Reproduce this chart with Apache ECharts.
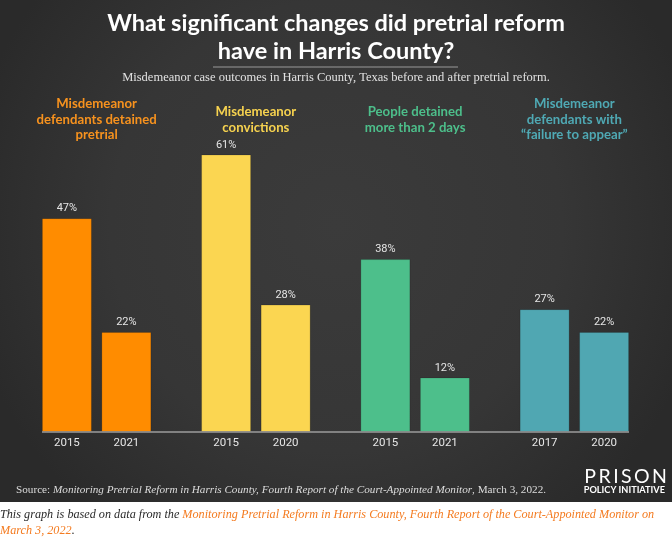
<!DOCTYPE html>
<html>
<head>
<meta charset="utf-8">
<script src="https://cdn.jsdelivr.net/npm/echarts@6/dist/echarts.min.js"></script>
<style>
html,body{margin:0;padding:0;background:#fff;}
#chart{width:672px;height:540px;}
</style>
</head>
<body>
<div id="chart"></div>
<script>
// ---- data ----
const titleText = 'What significant changes did pretrial reform\nhave in Harris County?';
const groupLabels = [
  'Misdemeanor\ndefendants detained\npretrial',
  'Misdemeanor\nconvictions',
  'People detained\nmore than 2 days',
  'Misdemeanor\ndefendants with\n\u201cfailure to appear\u201d'
];
const beforeYears = ['2015', '2015', '2015', '2017'];
const afterYears = ['2021', '2020', '2021', '2020'];
const beforeValues = [47, 61, 38, 27];
const afterValues = [22, 28, 12, 22];
const zeroValues = [0, 0, 0, 0];

// ---- styles ----
const barColors = ['#FF8C00', '#FBD651', '#4DBF8B', '#50A7B2'];
const labelColors = ['#F7921E', '#F6D24F', '#4DBF8B', '#4FA9B4'];

const chart = echarts.init(document.getElementById('chart'));

const rich = {};
labelColors.forEach((c, i) => {
  rich['g' + i] = { color: c, fontSize: 13.2, fontFamily: 'Lato', fontWeight: 'bold', lineHeight: 15.5, align: 'center' };
});

function pctLabel(vals) {
  return {
    show: true, position: 'top', distance: 4,
    color: '#E6E6E6', fontSize: 11, fontFamily: 'Roboto',
    formatter: p => vals[p.dataIndex] + '%'
  };
}
function yearLabel(yrs) {
  return {
    show: true, position: 'bottom', distance: 5,
    color: '#E6E6E6', fontSize: 11.5, fontFamily: 'Roboto',
    formatter: p => yrs[p.dataIndex]
  };
}
const colorFn = p => barColors[p.dataIndex];
const barBorder = 'rgba(0,0,0,0.15)';

const gridLeft = 17, gridRight = 18, gridBottom = 108, gridTop = 113.5;

const serif = 'Liberation Serif';
const spaced = s => s.split('').join('\u2009');

const option = {
  backgroundColor: '#ffffff',
  animation: false,
  title: [
    {
      text: 'Misdemeanor case outcomes in Harris County, Texas before and after pretrial reform.',
      left: 'center', top: 71.5, padding: 0,
      textStyle: { color: '#E2E2E2', fontSize: 12.5, fontFamily: serif, fontWeight: 'normal' }
    },
    {
      text: '{r|Source: }{i|Monitoring Pretrial Reform in Harris County, Fourth Report of the Court-Appointed Monitor}{r|, March 3, 2022.}',
      left: 16, top: 484.5, padding: 0,
      textStyle: {
        fontWeight: 'normal',
        rich: {
          r: { color: '#DDDDDD', fontSize: 11.2, fontFamily: serif, fontWeight: 'normal' },
          i: { color: '#DDDDDD', fontSize: 11.2, fontFamily: serif, fontStyle: 'italic', fontWeight: 'normal' }
        }
      }
    },
    {
      text: spaced('PRISON'),
      right: 5, top: 467, padding: 0,
      textStyle: { color: '#FFFFFF', fontSize: 19.5, fontFamily: 'Lato', fontWeight: 'normal' }
    },
    {
      text: 'POLICY INITIATIVE',
      right: 7, top: 486, padding: 0,
      textStyle: { color: '#FFFFFF', fontSize: 9.2, fontFamily: 'Lato', fontWeight: 'bold' }
    },
    {
      text: '{d|This graph is based on data from the }{o|Monitoring Pretrial Reform in Harris County, Fourth Report of the Court-Appointed Monitor on}\n{o|March 3, 2022}{d|.}',
      left: 0, top: 506.5, padding: 0,
      textStyle: {
        fontWeight: 'normal',
        lineHeight: 16.5,
        rich: {
          d: { color: '#2A2A2A', fontSize: 12.2, fontFamily: serif, fontStyle: 'italic', fontWeight: 'normal', lineHeight: 16.5 },
          o: { color: '#F47B20', fontSize: 12.2, fontFamily: serif, fontStyle: 'italic', fontWeight: 'normal', lineHeight: 16.5 }
        }
      }
    }
  ],
  graphic: [
    {
      type: 'rect', z: -10, silent: true,
      shape: { x: 0, y: 0, width: 672, height: 502 },
      style: {
        fill: {
          type: 'radial', x: 0.5, y: 0.45, r: 0.75,
          colorStops: [
            { offset: 0, color: '#3B3B3B' },
            { offset: 0.6, color: '#363636' },
            { offset: 1, color: '#2A2A2A' }
          ]
        }
      }
    },
    {
      type: 'text', z: 5, silent: true,
      x: 336, y: 9,
      style: {
        text: titleText, align: 'center', verticalAlign: 'top',
        fill: '#FFFFFF', fontSize: 23.5, fontFamily: 'Lato', fontWeight: 'bold', lineHeight: 28
      }
    },
    {
      type: 'line', z: 5, silent: true,
      shape: { x1: 213, y1: 67, x2: 458, y2: 67 },
      style: { stroke: '#9A9A9A', lineWidth: 1 }
    },
    {
      type: 'line', z: 5, silent: true,
      shape: { x1: 42, y1: 432, x2: 629, y2: 432 },
      style: { stroke: '#9C9C9C', lineWidth: 1.5 }
    }
  ],
  grid: { left: gridLeft, right: gridRight, top: gridTop, bottom: gridBottom, containLabel: false },
  xAxis: [
    {
      type: 'category', data: groupLabels, position: 'bottom',
      axisLine: { show: false }, axisTick: { show: false }, axisLabel: { show: false }
    },
    {
      type: 'category', data: groupLabels, position: 'top',
      axisLine: { show: false }, axisTick: { show: false },
      axisLabel: {
        show: true, margin: -6, verticalAlign: 'middle', interval: 0,
        formatter: (v, i) => v.split('\n').map(s => '{g' + i + '|' + s + '}').join('\n'),
        rich: rich
      }
    }
  ],
  yAxis: { type: 'value', min: 0, max: 70, show: false, splitLine: { show: false } },
  series: [
    {
      name: 'beforeYear', type: 'bar', stack: 'b', data: zeroValues, barWidth: 50, barGap: '19%',
      itemStyle: { color: colorFn }, label: yearLabel(beforeYears)
    },
    {
      name: 'before', type: 'bar', stack: 'b', data: beforeValues, barWidth: 50, barGap: '19%',
      itemStyle: { color: colorFn, borderColor: barBorder, borderWidth: 1 }, label: pctLabel(beforeValues)
    },
    {
      name: 'afterYear', type: 'bar', stack: 'a', data: zeroValues, barWidth: 50, barGap: '19%',
      itemStyle: { color: colorFn }, label: yearLabel(afterYears)
    },
    {
      name: 'after', type: 'bar', stack: 'a', data: afterValues, barWidth: 50, barGap: '19%',
      itemStyle: { color: colorFn, borderColor: barBorder, borderWidth: 1 }, label: pctLabel(afterValues)
    }
  ]
};
chart.setOption(option);
</script>
</body>
</html>
